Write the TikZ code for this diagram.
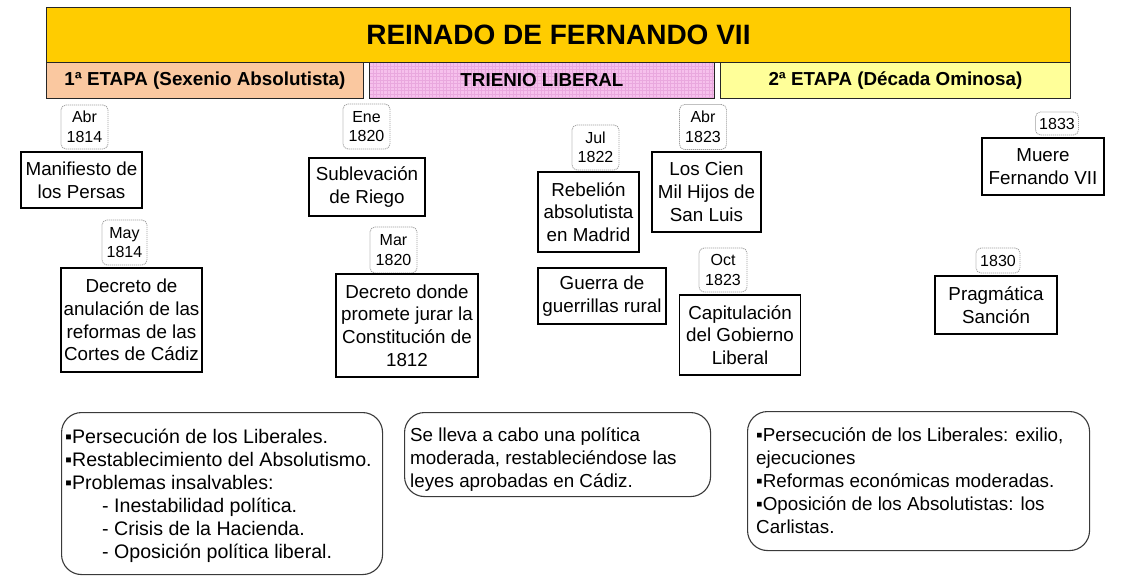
\documentclass[tikz,border=0pt]{standalone}
\usepackage{fontspec}
\setmainfont{Liberation Sans}
\definecolor{bangold}{HTML}{FFCC00}
\definecolor{peach}{HTML}{FAC8A0}
\definecolor{pinkfill}{HTML}{F6C0EC}
\definecolor{pinkgrid}{HTML}{E9A8DE}
\definecolor{paleyellow}{HTML}{FFFF99}
\definecolor{dategray}{HTML}{A0A0A0}
\definecolor{notegray}{HTML}{3A3A3A}
\newcommand\evfont{\fontsize{18.8}{22.8}\selectfont}
\newcommand\dtfont{\fontsize{16}{19.5}\selectfont}
\newcommand\ntfont{\fontsize{18.8}{23}\selectfont}
\newcommand\ntbigfont{\fontsize{19.6}{23}\selectfont}
\newcommand\ttlfont{\fontsize{28}{32}\selectfont\bfseries}
\newcommand\stfont{\fontsize{18.8}{22}\selectfont\bfseries}
\begin{document}
\begin{tikzpicture}[x=1pt,y=-1pt,
  band/.style={draw=black!85,line width=0.9pt,inner sep=0pt,anchor=north west},
  event/.style={draw=black,line width=1.2pt,fill=white,align=center,font=\evfont,inner xsep=2pt,inner ysep=1pt},
  datebox/.style={draw=dategray,line width=0.8pt,dash pattern=on 1.2pt off 0.8pt,rounded corners=5pt,align=center,font=\dtfont,inner sep=1pt},
  note/.style={draw=notegray,line width=1.1pt,rounded corners=20pt,anchor=north west,inner sep=0pt},
  notetext/.style={align=left,font=\ntfont,anchor=north west,inner sep=0pt}]
\useasboundingbox (0,0) rectangle (1123,583);
\fill[white] (0,0) rectangle (1123,583);

% banner and stages
\node[band,fill=bangold,minimum width=1024pt,minimum height=55pt,font=\ttlfont] (ban) at (46,7) {REINADO DE FERNANDO VII};
\node[band,fill=peach,minimum width=317pt,minimum height=36pt,font=\stfont] (st1) at (46,62) {1ª ETAPA (Sexenio Absolutista)};
\node[band,fill=pinkfill,minimum width=345pt,minimum height=36pt,font=\stfont,
  path picture={\draw[pinkgrid,line width=0.35pt,step=3.5pt] (path picture bounding box.south west) grid (path picture bounding box.north east);}] (st2) at (369,62) {TRIENIO LIBERAL};
\node[band,fill=paleyellow,minimum width=350pt,minimum height=36pt,font=\stfont] (st3) at (720,62) {2ª ETAPA (Década Ominosa)};

% dates
\node[datebox,minimum width=47pt,minimum height=44pt] (d1) at (84.5,127) {Abr\\1814};
\node[datebox,minimum width=47pt,minimum height=45pt] (d2) at (366.5,126.5) {Ene\\1820};
\node[datebox,minimum width=47pt,minimum height=45pt] (d3) at (595.5,147.5) {Jul\\1822};
\node[datebox,minimum width=47pt,minimum height=45pt] (d4) at (703,127) {Abr\\1823};
\node[datebox,minimum width=43pt,minimum height=23pt] (d5) at (1057,123.5) {1833};
\node[datebox,minimum width=45pt,minimum height=45pt] (d6) at (124.5,242.5) {May\\1814};
\node[datebox,minimum width=47pt,minimum height=46pt] (d7) at (393.5,250) {Mar\\1820};
\node[datebox,minimum width=48pt,minimum height=44pt] (d8) at (723,270) {Oct\\1823};
\node[datebox,minimum width=44pt,minimum height=25pt] (d9) at (998,260.5) {1830};

% events
\node[event,minimum width=121pt,minimum height=56pt] (e1) at (81.5,180) {Manifiesto de\\los Persas};
\node[event,minimum width=116pt,minimum height=58pt] (e2) at (367,187) {Sublevación\\de Riego};
\node[event,minimum width=101pt,minimum height=80pt] (e3) at (588.5,212) {Rebelión\\absolutista\\en Madrid};
\node[event,minimum width=109pt,minimum height=80pt] (e4) at (706.5,192) {Los Cien\\Mil Hijos de\\San Luis};
\node[event,minimum width=122pt,minimum height=57pt] (e5) at (1043,166.5) {Muere\\Fernando VII};
\node[event,minimum width=141pt,minimum height=104pt] (e6) at (131.5,320) {Decreto de\\anulación de las\\reformas de las\\Cortes de Cádiz};
\node[event,minimum width=142pt,minimum height=103pt] (e7) at (407,325.5) {Decreto donde\\promete jurar la\\Constitución de\\1812};
\node[event,minimum width=128pt,minimum height=56pt] (e8) at (602,296) {Guerra de\\guerrillas rural};
\node[event,minimum width=121pt,minimum height=80pt] (e9) at (740,335) {Capitulación\\del Gobierno\\Liberal};
\node[event,minimum width=122pt,minimum height=58pt] (e10) at (996,305) {Pragmática\\Sanción};

% notes
\node[note,minimum width=321pt,minimum height=162pt] (n1) at (61,412) {};
\node[note,minimum width=306pt,minimum height=84pt] (n2) at (404,412) {};
\node[note,minimum width=342pt,minimum height=139pt] (n3) at (747,411) {};
\node[notetext,font=\ntbigfont] (t1) at (65,427) {\strut▪Persecución de los Liberales.\\▪Restablecimiento del Absolutismo.\\▪Problemas insalvables:\\\hspace*{37pt}- Inestabilidad política.\\\hspace*{37pt}- Crisis de la Hacienda.\\\hspace*{37pt}- Oposición política liberal.};
\node[notetext] (t2) at (410,425) {\strut Se lleva a cabo una política\\moderada, restableciéndose las\\leyes aprobadas en Cádiz.};
\node[notetext] (t3) at (756,425) {\strut▪Persecución de los Liberales: exilio,\\ejecuciones\\▪Reformas económicas moderadas.\\▪Oposición de los Absolutistas: los\\Carlistas.};
\end{tikzpicture}
\end{document}
